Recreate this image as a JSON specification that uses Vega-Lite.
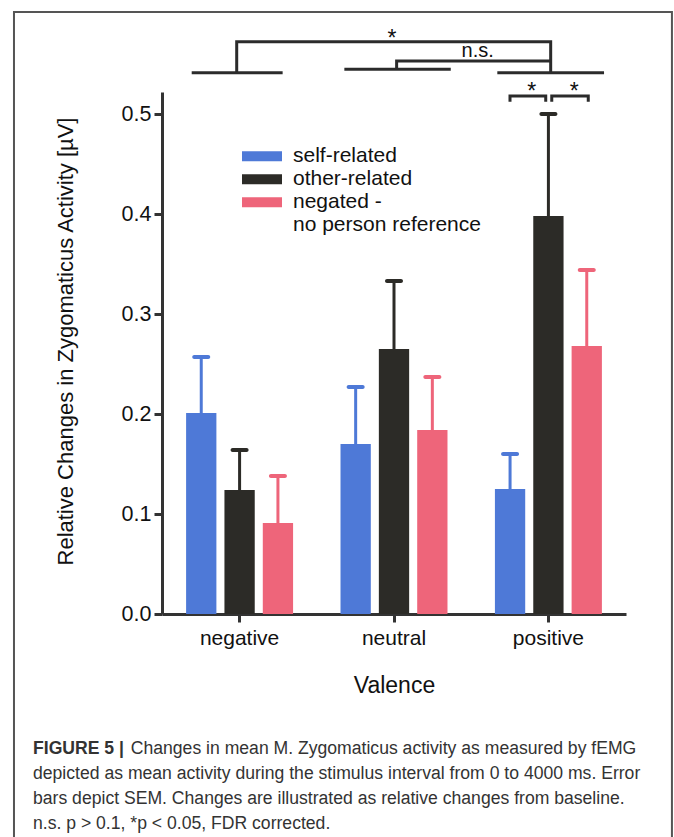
{
  "$schema": "https://vega.github.io/schema/vega-lite/v6.json",
  "width": 464,
  "height": 522,
  "autosize": {"type": "none"},
  "padding": {"left": 162, "top": 92, "right": 48, "bottom": 223},
  "background": "white",
  "config": {
    "view": {"stroke": null},
    "font": "Liberation Sans"
  },
  "datasets": {
    "bars": [
      {"valence": "negative", "condition": "self-related", "mean": 0.201, "upper": 0.257},
      {"valence": "negative", "condition": "other-related", "mean": 0.124, "upper": 0.164},
      {"valence": "negative", "condition": "negated - no person reference", "mean": 0.091, "upper": 0.138},
      {"valence": "neutral", "condition": "self-related", "mean": 0.170, "upper": 0.227},
      {"valence": "neutral", "condition": "other-related", "mean": 0.265, "upper": 0.333},
      {"valence": "neutral", "condition": "negated - no person reference", "mean": 0.184, "upper": 0.237},
      {"valence": "positive", "condition": "self-related", "mean": 0.125, "upper": 0.160},
      {"valence": "positive", "condition": "other-related", "mean": 0.398, "upper": 0.500},
      {"valence": "positive", "condition": "negated - no person reference", "mean": 0.268, "upper": 0.344}
    ],
    "brackets": [
      {"id": "A", "seq": 1, "u": 0.483, "y": 0.5413},
      {"id": "A", "seq": 2, "u": 0.483, "y": 0.5723},
      {"id": "A", "seq": 3, "u": 2.513, "y": 0.5723},
      {"id": "A", "seq": 4, "u": 2.513, "y": 0.5413},
      {"id": "B", "seq": 1, "u": 1.517, "y": 0.5447},
      {"id": "B", "seq": 2, "u": 1.517, "y": 0.553},
      {"id": "B", "seq": 3, "u": 2.513, "y": 0.553},
      {"id": "C", "seq": 1, "u": 2.250, "y": 0.5123},
      {"id": "C", "seq": 2, "u": 2.250, "y": 0.518},
      {"id": "C", "seq": 3, "u": 2.481, "y": 0.518},
      {"id": "C", "seq": 4, "u": 2.481, "y": 0.5123},
      {"id": "D", "seq": 1, "u": 2.520, "y": 0.5123},
      {"id": "D", "seq": 2, "u": 2.520, "y": 0.518},
      {"id": "D", "seq": 3, "u": 2.756, "y": 0.518},
      {"id": "D", "seq": 4, "u": 2.756, "y": 0.5123},
      {"id": "E", "seq": 1, "u": 0.192, "y": 0.5413},
      {"id": "E", "seq": 2, "u": 0.780, "y": 0.5413},
      {"id": "F", "seq": 1, "u": 1.179, "y": 0.5447},
      {"id": "F", "seq": 2, "u": 1.867, "y": 0.5447},
      {"id": "G", "seq": 1, "u": 2.168, "y": 0.5413},
      {"id": "G", "seq": 2, "u": 2.858, "y": 0.5413}
    ],
    "labels": [
      {"u": 1.487, "y": 0.5685, "label": "*"},
      {"u": 2.041, "y": 0.5567, "label": "n.s."},
      {"u": 2.390, "y": 0.5155, "label": "*"},
      {"u": 2.666, "y": 0.5155, "label": "*"}
    ],
    "frame": [
      {"u": -0.957, "u2": 3.297, "y": 0.602, "y2": -0.226}
    ]
  },
  "title": {
    "text": "FIGURE 5 |",
    "subtitle": [
      "\u200b\u00a0\u00a0\u00a0\u00a0\u00a0\u00a0\u00a0\u00a0\u00a0\u00a0\u00a0\u00a0\u00a0\u00a0\u00a0\u00a0\u00a0\u00a0\u00a0\u00a0Changes in mean M. Zygomaticus activity as measured by fEMG",
      "depicted as mean activity during the stimulus interval from 0 to 4000 ms. Error",
      "bars depict SEM. Changes are illustrated as relative changes from baseline.",
      "n.s. p > 0.1, *p < 0.05, FDR corrected."
    ],
    "orient": "bottom",
    "anchor": "start",
    "frame": "group",
    "dx": -129,
    "offset": -101,
    "font": "Liberation Sans",
    "fontSize": 17.6,
    "fontWeight": "bold",
    "color": "#333333",
    "subtitleFont": "Liberation Sans",
    "subtitleFontSize": 17.6,
    "subtitleFontWeight": "normal",
    "subtitleColor": "#333333",
    "subtitleLineHeight": 25,
    "subtitlePadding": -17.6
  },
  "layer": [
    {
      "data": {"name": "bars"},
      "encoding": {
        "x": {
          "field": "valence",
          "type": "nominal",
          "sort": ["negative", "neutral", "positive"],
          "scale": {"paddingInner": 0.255, "paddingOuter": 0.13},
          "axis": {
            "title": "Valence",
            "labelAngle": 0,
            "labelPadding": 5,
            "tickSize": 8,
            "tickWidth": 3,
            "domainWidth": 3,
            "domainColor": "#333333",
            "tickColor": "#333333",
            "labelFont": "Liberation Sans",
            "labelFontSize": 21,
            "labelColor": "#111111",
            "titleFont": "Liberation Sans",
            "titleFontSize": 23,
            "titleFontWeight": "normal",
            "titleColor": "#111111",
            "titlePadding": 26,
            "bandPosition": 0.5
          }
        },
        "xOffset": {
          "field": "condition",
          "type": "nominal",
          "sort": ["self-related", "other-related", "negated - no person reference"],
          "scale": {"paddingInner": 0.21, "paddingOuter": 0.105}
        },
        "color": {
          "field": "condition",
          "type": "nominal",
          "scale": {
            "domain": ["self-related", "other-related", "negated - no person reference", "no person reference"],
            "range": ["#4e79d7", "#2c2b27", "#ee657a", "transparent"]
          },
          "legend": {
            "title": null,
            "orient": "none",
            "legendX": 80,
            "legendY": 53,
            "symbolType": "M-1,-0.25L1,-0.25L1,0.25L-1,0.25Z",
            "symbolSize": 1600,
            "symbolStrokeWidth": 0,
            "symbolOpacity": 1,
            "labelFont": "Liberation Sans",
            "labelFontSize": 21,
            "labelColor": "#111111",
            "labelOffset": 11,
            "labelLimit": 300,
            "clipHeight": 22.67,
            "rowPadding": 0,
            "padding": 0,
            "labelExpr": "datum.label == 'negated - no person reference' ? 'negated -' : datum.label"
          }
        }
      },
      "layer": [
        {
          "mark": {"type": "bar"},
          "encoding": {
            "y": {
              "field": "mean",
              "type": "quantitative",
              "title": "Relative Changes in Zygomaticus Activity [µV]",
              "scale": {"domain": [0, 0.522], "nice": false},
              "axis": {
                "values": [0, 0.1, 0.2, 0.3, 0.4, 0.5],
                "format": ".1f",
                "grid": false,
                "labelPadding": 3,
                "tickSize": 8,
                "tickWidth": 3,
                "domainWidth": 3,
                "domainColor": "#333333",
                "tickColor": "#333333",
                "labelFont": "Liberation Sans",
                "labelFontSize": 21.5,
                "labelColor": "#111111",
                "titleFont": "Liberation Sans",
                "titleFontSize": 22,
                "titleFontWeight": "normal",
                "titleColor": "#111111",
                "titleX": -85,
                "titleY": 249
              }
            }
          }
        },
        {
          "mark": {"type": "rule", "strokeWidth": 3},
          "encoding": {
            "y": {"field": "mean", "type": "quantitative", "title": "Relative Changes in Zygomaticus Activity [µV]"},
            "y2": {"field": "upper"}
          }
        },
        {
          "mark": {"type": "tick", "thickness": 4, "size": 18, "cornerRadius": 2, "opacity": 1},
          "encoding": {
            "y": {"field": "upper", "type": "quantitative", "title": "Relative Changes in Zygomaticus Activity [µV]"}
          }
        }
      ]
    },
    {
      "layer": [
        {
          "data": {"name": "frame"},
          "mark": {"type": "rect", "filled": false, "stroke": "#555555", "strokeWidth": 2},
          "encoding": {
            "x": {"field": "u", "type": "quantitative", "scale": {"domain": [0, 3], "nice": false, "zero": false}, "axis": null},
            "x2": {"field": "u2"},
            "y": {"field": "y", "type": "quantitative", "title": "Relative Changes in Zygomaticus Activity [µV]"},
            "y2": {"field": "y2"}
          }
        },
        {
          "data": {"name": "brackets"},
          "mark": {"type": "line", "strokeWidth": 3, "color": "#2b2b2b", "strokeJoin": "miter", "strokeCap": "butt"},
          "encoding": {
            "x": {"field": "u", "type": "quantitative", "axis": null},
            "y": {"field": "y", "type": "quantitative", "title": "Relative Changes in Zygomaticus Activity [µV]"},
            "detail": {"field": "id", "type": "nominal"},
            "order": {"field": "seq", "type": "quantitative"}
          }
        },
        {
          "data": {"name": "labels"},
          "transform": [{"filter": "datum.label == '*'"}],
          "mark": {"type": "text", "fontSize": 23, "font": "Liberation Sans", "color": "#111111", "align": "center", "baseline": "alphabetic"},
          "encoding": {
            "x": {"field": "u", "type": "quantitative", "axis": null},
            "y": {"field": "y", "type": "quantitative", "title": "Relative Changes in Zygomaticus Activity [µV]"},
            "text": {"field": "label"}
          }
        },
        {
          "data": {"name": "labels"},
          "transform": [{"filter": "datum.label != '*'"}],
          "mark": {"type": "text", "fontSize": 20, "font": "Liberation Sans", "color": "#111111", "align": "center", "baseline": "alphabetic"},
          "encoding": {
            "x": {"field": "u", "type": "quantitative", "axis": null},
            "y": {"field": "y", "type": "quantitative", "title": "Relative Changes in Zygomaticus Activity [µV]"},
            "text": {"field": "label"}
          }
        }
      ]
    }
  ],
  "resolve": {"scale": {"x": "independent"}, "axis": {"x": "independent"}}
}
